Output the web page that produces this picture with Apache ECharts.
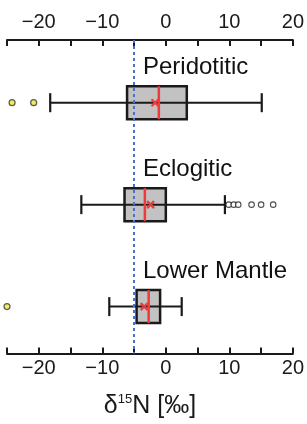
<!DOCTYPE html>
<html>
<head>
<meta charset="utf-8">
<script src="https://cdn.jsdelivr.net/npm/echarts@6/dist/echarts.min.js"></script>
<style>
html,body{margin:0;padding:0;background:#fff;}
#chart{width:307px;height:424px;}
</style>
</head>
<body>
<div id="chart"></div>
<script>
// ---- data ----
var groups = ['Peridotitic', 'Eclogitic', 'Lower Mantle'];
var whiskerLow  = [-18.2, -13.3, -8.9];
var q1          = [-6.1, -6.5, -4.6];
var median      = [-1.1, -3.3, -2.7];
var q3          = [3.3, 0.0, -0.9];
var whiskerHigh = [15.1, 9.3, 2.5];
var mean        = [-1.7, -2.4, -3.4];
var outliersYellow = [[-24.2, 0], [-20.8, 0], [-25.0, 2]];
var outliersOpen   = [[9.9, 1], [10.7, 1], [11.4, 1], [13.5, 1], [15.0, 1], [16.9, 1]];
var refLineValue = -5;
var xTicks = [-20, -10, 0, 10, 20];

var FONT = 'Liberation Sans, Arial, sans-serif';
var boxData = groups.map(function (g, i) {
  return [i, whiskerLow[i], q1[i], median[i], q3[i], whiskerHigh[i], mean[i]];
});

function renderBox(params, api) {
  var i = api.value(0);
  var lo = api.coord([api.value(1), i]);
  var b1 = api.coord([api.value(2), i]);
  var md = api.coord([api.value(3), i]);
  var b3 = api.coord([api.value(4), i]);
  var hi = api.coord([api.value(5), i]);
  var mn = api.coord([api.value(6), i]);
  var y = lo[1];
  var bh = 16.5, ch = 9.5, mk = 3.5;
  var black = '#1a1a1a', red = '#f03a3a';
  return {
    type: 'group',
    children: [
      { type: 'rect', shape: { x: b1[0], y: y - bh, width: b3[0] - b1[0], height: 2 * bh },
        style: { fill: '#c2c2c2', stroke: black, lineWidth: 2.5 } },
      { type: 'line', shape: { x1: lo[0], y1: y, x2: hi[0], y2: y },
        style: { stroke: black, lineWidth: 2 } },
      { type: 'line', shape: { x1: lo[0], y1: y - ch, x2: lo[0], y2: y + ch },
        style: { stroke: black, lineWidth: 2.2 } },
      { type: 'line', shape: { x1: hi[0], y1: y - ch, x2: hi[0], y2: y + ch },
        style: { stroke: black, lineWidth: 2.2 } },
      { type: 'line', shape: { x1: md[0], y1: y - bh, x2: md[0], y2: y + bh },
        style: { stroke: red, lineWidth: 2.5 } },
      { type: 'line', shape: { x1: mn[0] - mk, y1: y - mk, x2: mn[0] + mk, y2: y + mk },
        style: { stroke: red, lineWidth: 2.2 } },
      { type: 'line', shape: { x1: mn[0] - mk, y1: y + mk, x2: mn[0] + mk, y2: y - mk },
        style: { stroke: red, lineWidth: 2.2 } },
      { type: 'text', x: api.coord([-3.6, i])[0], y: y - 35,
        style: { text: groups[i], font: '24px ' + FONT, fill: '#111', verticalAlign: 'middle', align: 'left' } }
    ]
  };
}

var chart = echarts.init(document.getElementById('chart'), null, { renderer: 'canvas' });
function xAxisCfg(pos, margin) {
  return {
    type: 'value', position: pos, min: -25, max: 20, interval: 5,
    axisLine: { show: true, onZero: false, lineStyle: { color: '#1a1a1a', width: 2 } },
    axisTick: { show: true, inside: true, length: 6, lineStyle: { color: '#1a1a1a', width: 2 } },
    splitLine: { show: false },
    axisLabel: {
      margin: margin, fontSize: 20, fontFamily: FONT, color: '#1a1a1a',
      showMinLabel: true, showMaxLabel: true,
      formatter: function (v) {
        if (xTicks.indexOf(v) < 0) return '';
        return v < 0 ? '\u2212' + Math.abs(v) : String(v);
      }
    }
  };
}
var bottomAxis = xAxisCfg('bottom', 5);
bottomAxis.name = '{a|δ}{s|15}{a|N [‰]}';
bottomAxis.nameLocation = 'middle';
bottomAxis.nameGap = 39;
bottomAxis.nameTextStyle = {
  rich: {
    a: { fontSize: 25, lineHeight: 28, fontFamily: FONT, color: '#1a1a1a' },
    s: { fontSize: 13, lineHeight: 14, fontFamily: FONT, color: '#1a1a1a', verticalAlign: 'top' }
  }
};

chart.setOption({
  animation: false,
  backgroundColor: '#fff',
  grid: { left: 7, right: 11, top: 40, bottom: 66.5, containLabel: false },
  xAxis: [xAxisCfg('top', 8), bottomAxis],
  yAxis: { type: 'value', min: -0.615, max: 2.46, inverse: true, show: false },
  series: [
    {
      type: 'custom', xAxisIndex: 0, renderItem: renderBox, data: boxData, z: 3,
      encode: { x: [1, 2, 3, 4, 5, 6], y: 0 },
      markLine: {
        silent: true, symbol: 'none', label: { show: false },
        lineStyle: { color: '#4a6ed2', width: 2, type: [3, 3] },
        data: [{ xAxis: refLineValue }]
      }
    },
    {
      type: 'scatter', xAxisIndex: 0, data: outliersYellow, symbol: 'circle', symbolSize: 6, z: 4,
      itemStyle: { color: '#e8e63a', borderColor: '#333', borderWidth: 1.2 }
    },
    {
      type: 'scatter', xAxisIndex: 0, data: outliersOpen, symbol: 'circle', symbolSize: 5.5, z: 4,
      itemStyle: { color: '#fff', borderColor: '#222', borderWidth: 1.1 }
    }
  ]
});
</script>
</body>
</html>
